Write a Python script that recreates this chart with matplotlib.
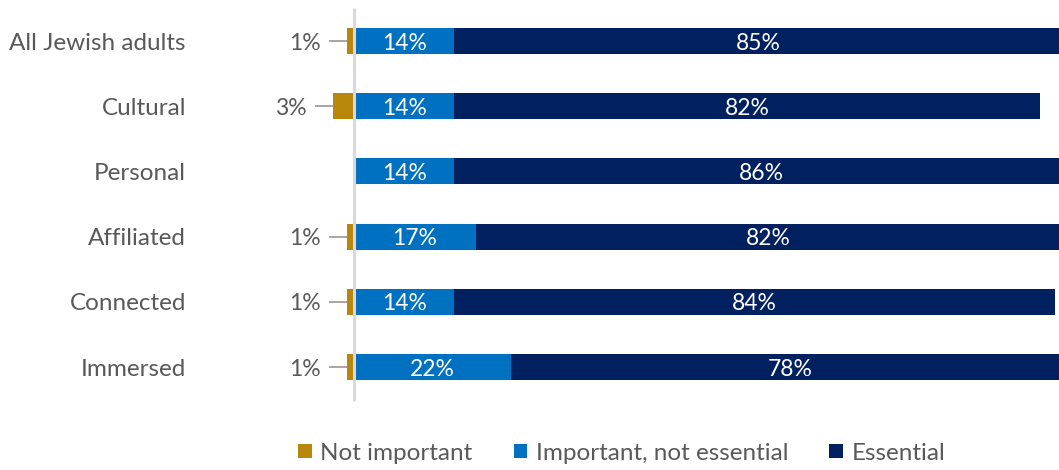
import matplotlib.pyplot as plt

categories = ['All Jewish adults', 'Cultural', 'Personal', 'Affiliated', 'Connected', 'Immersed']
not_important = [1, 3, 0, 1, 1, 1]
important = [14, 14, 14, 17, 14, 22]
essential = [85, 82, 86, 82, 84, 78]
series_names = ['Not important', 'Important, not essential', 'Essential']

gold = '#B8860B'
blue = '#0070C0'
navy = '#002060'
text_gray = '#595959'

plt.rcParams['font.family'] = ['Lato', 'DejaVu Sans']

PX = 7.15  # pixels per percentage point
W, H = 1059, 470
x0 = 354   # pixel of 0%
row0, row_step = 41, 65.2

fig = plt.figure(figsize=(W / 100, H / 100), dpi=100)
ax = fig.add_axes([0, 0, 1, 1])
ax.set_xlim(-x0 / PX, (W - x0) / PX)
ax.set_ylim((H - row0) / row_step, -row0 / row_step)
ax.axis('off')

y = list(range(len(categories)))
h = 0.4
b1 = ax.barh(y, [-v for v in not_important], height=h, color=gold, label=series_names[0])
b2 = ax.barh(y, important, height=h, color=blue, label=series_names[1])
b3 = ax.barh(y, essential, left=important, height=h, color=navy, label=series_names[2])

# zero line
ax.plot([0, 0], [(8 - row0) / row_step, (401 - row0) / row_step],
        color='#D9D9D9', lw=2.2, zorder=4, solid_capstyle='butt')

fs = 16.5
for i, cat in enumerate(categories):
    ax.text(-168 / PX, i, cat, ha='right', va='center_baseline', fontsize=17.5, color=text_gray)
    ax.text(important[i] / 2, i, f'{important[i]}%', ha='center', va='center_baseline',
            fontsize=fs, color='white')
    ax.text(important[i] + essential[i] / 2, i, f'{essential[i]}%', ha='center',
            va='center_baseline', fontsize=fs, color='white')
    ni = not_important[i]
    if ni > 0:
        left = -ni
        ax.plot([left - 1 / PX, left - 17 / PX], [i, i], color='#A6A6A6', lw=1.4)
        ax.text(left - 26 / PX, i, f'{ni}%', ha='right', va='center_baseline',
                fontsize=fs, color=text_gray)

fig.legend(handles=[b1, b2, b3], loc='center', bbox_to_anchor=(0.587, 0.036),
           ncol=3, frameon=False, fontsize=17.5, labelcolor=text_gray,
           handlelength=0.55, handleheight=0.55, handletextpad=0.35,
           columnspacing=1.7)

fig.savefig('out.png', dpi=100)
